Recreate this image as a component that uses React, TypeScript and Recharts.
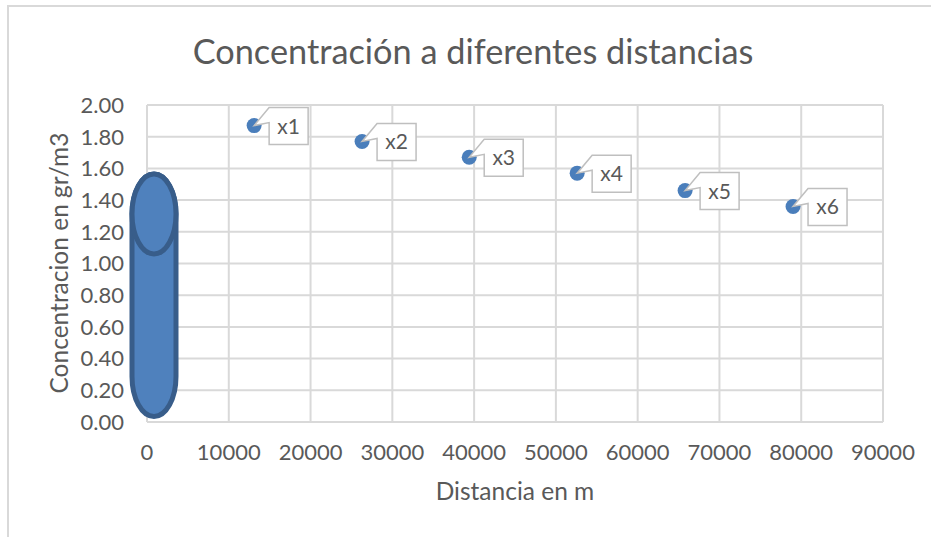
import React from "react";
import {
  ScatterChart,
  Scatter,
  XAxis,
  YAxis,
  CartesianGrid,
  LabelList,
  ReferenceArea,
} from "recharts";

const pointNames = ["x1", "x2", "x3", "x4", "x5", "x6"];
const distances = [13100, 26300, 39400, 52600, 65800, 79000];
const concentrations = [1.87, 1.77, 1.67, 1.57, 1.46, 1.36];
const xTicks = [0, 10000, 20000, 30000, 40000, 50000, 60000, 70000, 80000, 90000];
const yTicks = [0, 0.2, 0.4, 0.6, 0.8, 1, 1.2, 1.4, 1.6, 1.8, 2];
// tank drawn over the axis, in chart units
const tankX = [-1834, 3546];
const tankY = [0.035, 1.565];

const data = pointNames.map((name, i) => ({
  name,
  x: distances[i],
  y: concentrations[i],
}));

const FONT = "Lato, sans-serif";
const TEXT = "#595959";
const GRID = "#d9d9d9";

function Callout(props: any) {
  const { x, y, width, height, value } = props;
  const cx = x + width / 2;
  const cy = y + height / 2;
  const left = cx + 15;
  const top = cy - 18;
  const w = 39;
  const h = 37;
  return (
    <g>
      <path
        d={`M${left} ${top} H${left + w} V${top + h} H${left} V${top + 15} L${cx} ${cy} Z`}
        fill="#fff"
        stroke="#bfbfbf"
        strokeWidth={1.5}
      />
      <text
        x={left + w / 2}
        y={top + 26}
        textAnchor="middle"
        fontFamily={FONT}
        fontSize={21}
        fill={TEXT}
      >
        {value}
      </text>
    </g>
  );
}

function Tank(props: any) {
  const { x, y, width, height } = props;
  const rx = width / 2;
  const ry = 40;
  return (
    <g fill="#4f81bd" stroke="#385d8a" strokeWidth={5}>
      <path
        d={`M${x} ${y + ry} A${rx} ${ry} 0 0 1 ${x + width} ${y + ry} V${y + height - ry} A${rx} ${ry} 0 0 1 ${x} ${y + height - ry} Z`}
      />
      <ellipse cx={x + rx} cy={y + ry} rx={rx} ry={ry} />
    </g>
  );
}

export default function App() {
  return (
    <div style={{ position: "absolute", left: 0, top: 0, width: 931, height: 537, overflow: "hidden", background: "#fff" }}>
      <div
        style={{
          position: "absolute",
          left: 7,
          top: 5,
          width: 930,
          height: 540,
          border: "2px solid " + GRID,
        }}
      />
      <div style={{ position: "absolute", left: 0, top: 0 }}>
        <ScatterChart
          width={931}
          height={537}
          margin={{ top: 105, right: 48, bottom: 0, left: 0 }}
        >
          <CartesianGrid
            stroke={GRID}
            strokeWidth={2}
            verticalValues={xTicks}
            horizontalValues={yTicks}
          />
          <XAxis
            type="number"
            dataKey="x"
            domain={[0, 90000]}
            ticks={xTicks}
            tickLine={false}
            axisLine={false}
            tick={{ fill: TEXT, fontFamily: FONT, fontSize: 22 }}
            tickMargin={16}
            interval={0}
            height={115}
            label={{
              value: "Distancia en m",
              position: "insideTop",
              dy: 56,
              dx: 0,
              fill: TEXT,
              fontFamily: FONT,
              fontSize: 24.5,
            }}
          />
          <YAxis
            type="number"
            dataKey="y"
            domain={[0, 2]}
            ticks={yTicks}
            width={147}
            tickLine={false}
            axisLine={false}
            tick={{ fill: TEXT, fontFamily: FONT, fontSize: 22 }}
            tickFormatter={(v: number) => v.toFixed(2)}
            tickMargin={17}
            interval={0}
            label={{
              value: "Concentracion en gr/m3",
              angle: -90,
              position: "insideLeft",
              dx: 54,
              dy: 130,
              fill: TEXT,
              fontFamily: FONT,
              fontSize: 24.5,
            }}
          />
          <Scatter data={data} fill="#4f81bd" isAnimationActive={false} shape={(p: any) => <circle cx={p.cx} cy={p.cy} r={7.5} fill="#4a7ebb" />}>
            <LabelList dataKey="name" content={<Callout />} />
          </Scatter>
          <ReferenceArea
            x1={tankX[0]}
            x2={tankX[1]}
            y1={tankY[0]}
            y2={tankY[1]}
            ifOverflow="visible"
            shape={<Tank />}
          />
          <text x={473} y={64} textAnchor="middle" fontFamily={FONT} fontSize={34.3} fill={TEXT}>
            Concentración a diferentes distancias
          </text>
        </ScatterChart>
      </div>
    </div>
  );
}
